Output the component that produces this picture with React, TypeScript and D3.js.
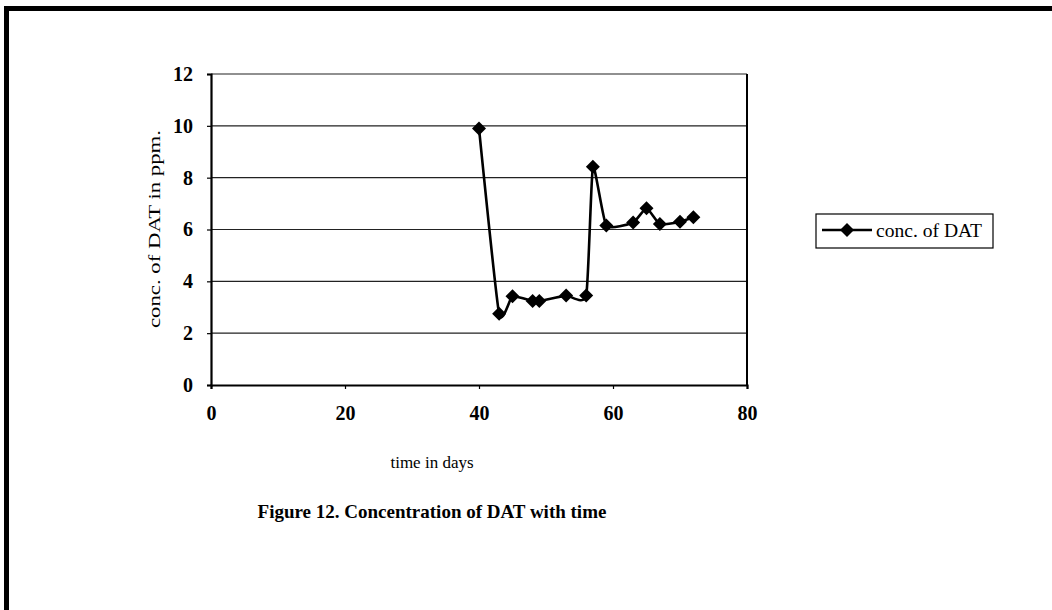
import React, { useEffect, useRef } from 'react';
import * as d3 from 'd3';

const days = [40, 43, 45, 48, 49, 53, 56, 57, 59, 63, 65, 67, 70, 72];
const concDAT = [9.9, 2.75, 3.42, 3.24, 3.24, 3.45, 3.45, 8.42, 6.15, 6.27, 6.82, 6.21, 6.3, 6.47];
const xTicks = [0, 20, 40, 60, 80];
const yTicks = [0, 2, 4, 6, 8, 10, 12];
const seriesName = 'conc. of DAT';

const App: React.FC = () => {
  const svgRef = useRef<SVGSVGElement>(null);

  useEffect(() => {
    if (!svgRef.current) return;
    const svg = d3.select(svgRef.current);
    svg.selectAll('*').remove();

    const width = 1052;
    const height = 610;
    svg.attr('width', width).attr('height', height);

    svg.append('rect').attr('width', width).attr('height', height).attr('fill', '#fff');

    // page frame (left + top only)
    svg.append('line').attr('x1', 6.5).attr('x2', 6.5).attr('y1', 6).attr('y2', height).attr('stroke', '#000').attr('stroke-width', 5);
    svg.append('line').attr('x1', 4).attr('x2', width).attr('y1', 8.5).attr('y2', 8.5).attr('stroke', '#000').attr('stroke-width', 5);

    const x = d3.scaleLinear().domain([0, 80]).range([211, 747]);
    const y = d3.scaleLinear().domain([0, 12]).range([385, 74]);

    const serif = '"Liberation Serif", "Times New Roman", serif';

    // gridlines
    svg
      .append('g')
      .selectAll('line')
      .data(yTicks.filter((d) => d > 0))
      .join('line')
      .attr('x1', x(0))
      .attr('x2', x(80))
      .attr('y1', (d) => y(d))
      .attr('y2', (d) => y(d))
      .attr('stroke', '#222')
      .attr('stroke-width', 1.2);

    // plot right border
    svg.append('line').attr('x1', x(80)).attr('x2', x(80)).attr('y1', y(12)).attr('y2', y(0)).attr('stroke', '#000').attr('stroke-width', 2);

    // axes
    const yAxis = d3.axisLeft(y).tickValues(yTicks).tickSize(4).tickPadding(14).tickFormat(d3.format('d'));
    const yG = svg.append('g').attr('transform', `translate(${x(0)},0)`).call(yAxis);
    const xAxis = d3.axisBottom(x).tickValues(xTicks).tickSize(4).tickPadding(17).tickFormat(d3.format('d'));
    const xG = svg.append('g').attr('transform', `translate(0,${y(0)})`).call(xAxis);
    [yG, xG].forEach((g) => {
      g.attr('font-family', serif).attr('font-size', 20);
      g.select('.domain').attr('stroke', '#000').attr('stroke-width', 2.2);
      g.selectAll('.tick line').attr('stroke', '#000').attr('stroke-width', 1.2);
      g.selectAll('.tick text').attr('font-weight', 'bold').attr('fill', '#000');
    });

    // axis titles
    svg
      .append('text')
      .attr('x', 432)
      .attr('y', 468)
      .attr('text-anchor', 'middle')
      .attr('font-family', serif)
      .attr('font-size', 17)
      .text('time in days');

    svg
      .append('text')
      .attr('transform', 'translate(160,229) rotate(-90)')
      .attr('text-anchor', 'middle')
      .attr('font-family', serif)
      .attr('font-size', 17)
      .attr('textLength', 198)
      .attr('lengthAdjust', 'spacingAndGlyphs')
      .text('conc. of DAT in ppm.');

    // figure caption
    svg
      .append('text')
      .attr('x', 432)
      .attr('y', 518)
      .attr('text-anchor', 'middle')
      .attr('font-family', serif)
      .attr('font-weight', 'bold')
      .attr('font-size', 19)
      .text('Figure 12. Concentration of DAT with time');

    // series
    const pts = days.map((d, i) => [d, concDAT[i]] as [number, number]);
    const line = d3
      .line<[number, number]>()
      .x((d) => x(d[0]))
      .y((d) => y(d[1]))
      .curve(d3.curveCardinal.tension(0.5));

    svg
      .append('path')
      .datum(pts)
      .attr('fill', 'none')
      .attr('stroke', '#000')
      .attr('stroke-width', 2.6)
      .attr('d', line as any);

    const r = 7;
    const diamond = (cx: number, cy: number) => `M${cx},${cy - r}L${cx + r},${cy}L${cx},${cy + r}L${cx - r},${cy}Z`;
    svg
      .append('g')
      .selectAll('path')
      .data(pts)
      .join('path')
      .attr('d', (d) => diamond(x(d[0]), y(d[1])))
      .attr('fill', '#000');

    // legend
    const lg = svg.append('g');
    lg.append('rect')
      .attr('x', 816)
      .attr('y', 214)
      .attr('width', 177)
      .attr('height', 34)
      .attr('fill', '#fff')
      .attr('stroke', '#000')
      .attr('stroke-width', 1.2);
    lg.append('line').attr('x1', 822).attr('x2', 872).attr('y1', 230).attr('y2', 230).attr('stroke', '#000').attr('stroke-width', 2.6);
    lg.append('path').attr('d', diamond(847, 230)).attr('fill', '#000');
    lg.append('text')
      .attr('x', 876)
      .attr('y', 237)
      .attr('font-family', serif)
      .attr('font-size', 18)
      .attr('textLength', 106)
      .attr('lengthAdjust', 'spacingAndGlyphs')
      .text(seriesName);
  }, []);

  return <svg ref={svgRef} style={{ position: 'absolute', left: 0, top: 0 }}></svg>;
};

export default App;
